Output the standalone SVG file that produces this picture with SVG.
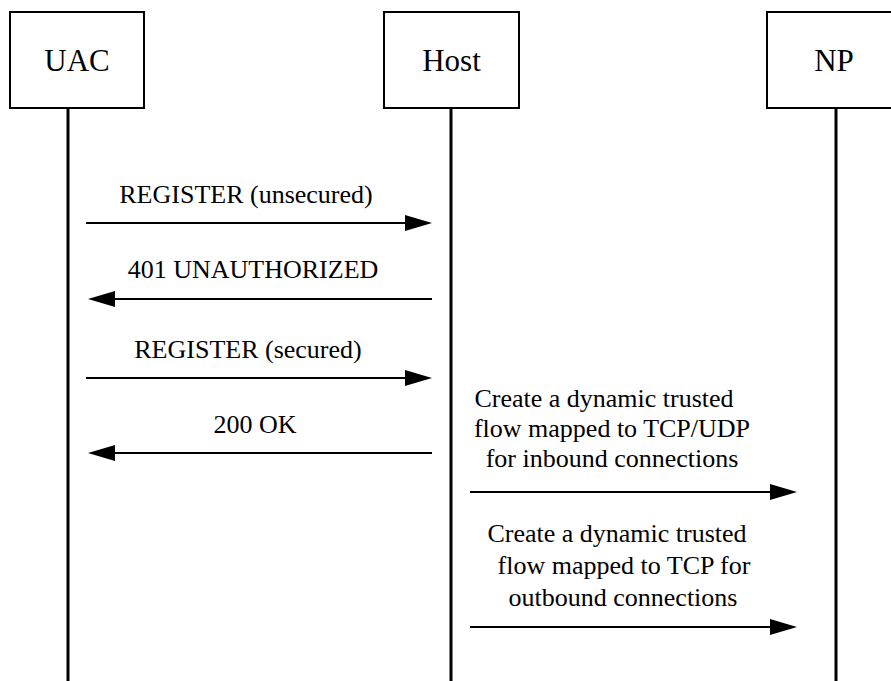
<svg xmlns="http://www.w3.org/2000/svg" width="891" height="681" viewBox="0 0 891 681">
<style>
.box{fill:#fff;stroke:#000;stroke-width:2}
.life{stroke:#000;stroke-width:3}
.msg{stroke:#000;stroke-width:2;fill:none}
.head{fill:#000}
text{font-family:"Times New Roman",Tinos,"Liberation Serif","DejaVu Serif",serif;fill:#000;text-anchor:middle}
.h{font-size:31px}
.l{font-size:26px}
</style>
<rect width="891" height="681" fill="#fff"/>
<g id="lifelines">
<line class="life" x1="68" y1="108" x2="68" y2="681"/>
<line class="life" x1="451" y1="108" x2="451" y2="681"/>
<line class="life" x1="836" y1="108" x2="836" y2="681"/>
</g>
<g id="uac"><rect class="box" x="10" y="12" width="134" height="96"/><text class="h" x="77" y="71">UAC</text></g>
<g id="host"><rect class="box" x="384" y="12" width="135" height="96"/><text class="h" x="451.5" y="71">Host</text></g>
<g id="np"><rect class="box" x="767" y="12" width="140" height="96"/><text class="h" x="834" y="71">NP</text></g>
<g id="connectors">
<line class="msg" x1="86" y1="223" x2="410" y2="223"/><polygon class="head" points="432,223 405,215 405,231"/>
<line class="msg" x1="110" y1="299" x2="432" y2="299"/><polygon class="head" points="88,299 115,291 115,307"/>
<line class="msg" x1="86" y1="378" x2="410" y2="378"/><polygon class="head" points="432,378 405,370 405,386"/>
<line class="msg" x1="110" y1="453" x2="432" y2="453"/><polygon class="head" points="88,453 115,445 115,461"/>
<line class="msg" x1="470" y1="492" x2="775" y2="492"/><polygon class="head" points="797,492 770,484 770,500"/>
<line class="msg" x1="470" y1="627" x2="775" y2="627"/><polygon class="head" points="797,627 770,619 770,635"/>
</g>
<g id="labels">
<text class="l" x="246" y="203">REGISTER (unsecured)</text>
<text class="l" x="253" y="278">401 UNAUTHORIZED</text>
<text class="l" x="248" y="358">REGISTER (secured)</text>
<text class="l" x="255" y="433">200 OK</text>
<text class="l" x="604" y="407">Create a dynamic trusted</text>
<text class="l" x="612" y="437">flow mapped to TCP/UDP</text>
<text class="l" x="612" y="467">for inbound connections</text>
<text class="l" x="617" y="542">Create a dynamic trusted</text>
<text class="l" x="624" y="574">flow mapped to TCP for</text>
<text class="l" x="623" y="606">outbound connections</text>
</g>
</svg>
